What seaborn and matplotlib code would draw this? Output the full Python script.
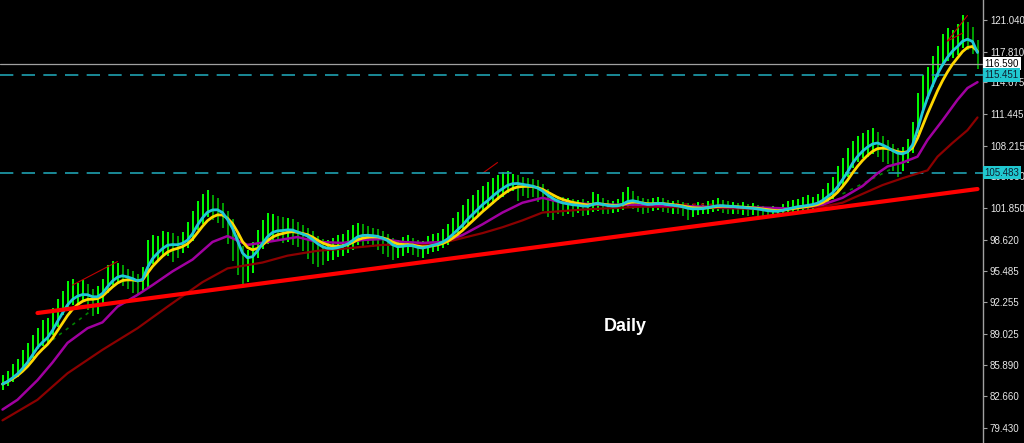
import numpy as np
import pandas as pd
import seaborn as sns
import matplotlib

matplotlib.use("Agg")
import matplotlib.pyplot as plt

# daily bars (one bar = one day)
closes = [
    83.9, 84.3, 84.8, 85.3, 86.0, 86.7, 87.6, 88.4, 88.7, 89.1,
    90.1, 91.2, 92.0, 92.8, 93.1, 93.2, 93.2, 93.0, 92.6, 92.8,
    93.5, 94.5, 95.0, 95.2, 95.1, 94.7, 94.5, 94.2, 94.7, 97.0,
    97.6, 97.8, 98.2, 98.4, 98.2, 98.1, 98.4, 98.9, 99.9, 101.0,
    101.6, 102.0, 101.9, 101.7, 101.1, 100.0, 98.9, 97.3, 96.0, 96.3,
    97.0, 98.1, 99.0, 99.6, 99.8, 99.7, 99.6, 99.7, 99.6, 99.2,
    99.0, 98.8, 98.3, 97.8, 97.6, 97.6, 97.7, 97.9, 98.1, 98.4,
    98.9, 99.3, 99.2, 99.1, 99.0, 98.9, 98.6, 98.3, 97.7, 97.7,
    98.0, 98.1, 98.0, 97.7, 97.7, 98.0, 98.2, 98.3, 98.6, 99.0,
    99.6, 100.1, 100.6, 101.3, 101.7, 102.2, 102.7, 103.0, 103.5, 103.9,
    104.2, 104.5, 104.5, 104.4, 104.2, 104.1, 104.0, 103.7, 103.3, 102.8,
    102.5, 102.3, 102.2, 102.2, 102.1, 102.1, 102.0, 102.0, 102.4, 102.5,
    102.1, 102.0, 102.0, 102.1, 102.4, 102.8, 102.7, 102.4, 102.2, 102.1,
    102.3, 102.4, 102.3, 102.1, 102.1, 102.0, 101.9, 101.7, 101.7, 101.8,
    101.8, 102.0, 102.1, 102.2, 102.1, 102.0, 102.0, 101.9, 101.9, 101.8,
    101.8, 101.7, 101.6, 101.5, 101.5, 101.5, 101.7, 101.9, 102.0, 102.1,
    102.1, 102.2, 102.3, 102.5, 102.9, 103.4, 103.8, 104.6, 105.5, 106.3,
    107.3, 107.8, 108.2, 108.5, 108.7, 108.6, 108.1, 107.8, 107.4, 107.2,
    107.3, 107.8, 109.0, 111.4, 113.4, 114.6, 115.6, 116.7, 117.4, 118.0,
    118.5, 118.8, 119.4, 119.3, 118.6, 116.6,
]
highs = [
    84.8, 85.2, 85.9, 86.5, 87.4, 88.1, 88.9, 89.6, 90.4, 90.6,
    91.7, 92.6, 93.4, 94.4, 94.6, 94.2, 94.5, 94.1, 93.6, 93.9,
    94.6, 96.0, 96.5, 96.3, 96.0, 95.6, 95.4, 95.1, 95.8, 98.6,
    99.1, 99.0, 99.5, 99.4, 99.3, 99.0, 99.4, 100.4, 101.6, 102.6,
    103.3, 103.7, 103.2, 102.9, 102.4, 101.6, 100.7, 99.3, 98.0, 97.6,
    98.4, 99.6, 100.6, 101.4, 101.3, 101.0, 100.9, 100.8, 100.7, 100.4,
    100.1, 99.8, 99.5, 99.0, 98.7, 98.6, 98.8, 99.1, 99.2, 99.6,
    100.1, 100.3, 100.2, 100.0, 99.8, 99.7, 99.5, 99.2, 98.8, 98.6,
    98.9, 99.1, 98.8, 98.6, 98.5, 99.0, 99.2, 99.3, 99.7, 100.2,
    100.8, 101.5, 102.2, 102.8, 103.2, 103.7, 104.1, 104.5, 104.9, 105.2,
    105.5, 105.6, 105.3, 105.2, 105.0, 104.9, 104.8, 104.7, 104.3, 103.8,
    103.3, 103.1, 103.0, 102.9, 102.8, 102.7, 102.8, 102.6, 103.5, 103.3,
    102.9, 102.7, 102.6, 102.8, 103.5, 104.0, 103.6, 103.1, 102.9, 102.8,
    102.9, 103.0, 102.9, 102.7, 102.6, 102.7, 102.5, 102.4, 102.3, 102.5,
    102.4, 102.6, 102.7, 102.9, 102.7, 102.6, 102.5, 102.4, 102.5, 102.3,
    102.4, 102.2, 102.1, 102.0, 102.1, 102.0, 102.3, 102.6, 102.7, 102.8,
    103.0, 103.2, 103.0, 103.3, 103.8, 104.4, 105.0, 106.1, 107.0, 108.0,
    108.7, 109.2, 109.5, 109.8, 110.0, 109.6, 109.2, 108.8, 108.4, 108.0,
    108.1, 108.9, 110.6, 113.6, 115.4, 116.2, 117.4, 118.4, 119.6, 120.2,
    120.0, 120.6, 121.5, 120.8, 120.3, 119.0,
]
lows = [
    83.3, 83.7, 84.1, 84.6, 85.2, 85.9, 86.6, 87.5, 87.8, 88.0,
    88.9, 89.7, 90.9, 91.6, 92.0, 92.1, 92.3, 91.5, 90.8, 91.0,
    92.1, 93.2, 94.0, 94.1, 93.9, 93.6, 93.2, 93.0, 93.4, 93.8,
    96.2, 96.5, 96.9, 97.0, 96.4, 96.8, 97.3, 97.8, 98.5, 99.6,
    100.2, 100.9, 100.6, 100.3, 99.8, 98.2, 96.5, 95.0, 94.0, 94.3,
    95.2, 96.8, 97.7, 98.2, 98.6, 98.5, 98.3, 98.4, 98.1, 97.9,
    97.5, 96.7, 96.2, 95.8, 96.0, 96.5, 96.6, 96.9, 97.0, 97.3,
    97.6, 98.1, 98.0, 98.2, 97.9, 97.6, 97.2, 96.9, 96.6, 96.8,
    97.0, 97.3, 97.1, 96.9, 96.8, 97.2, 97.4, 97.5, 97.8, 98.1,
    98.6, 99.0, 99.5, 100.1, 100.6, 101.0, 101.5, 102.0, 102.3, 102.7,
    103.0, 103.4, 103.6, 102.6, 103.1, 102.9, 103.0, 102.5, 101.6, 100.9,
    100.6, 101.2, 101.0, 101.3, 100.9, 101.4, 101.0, 101.1, 101.5, 101.6,
    101.2, 101.3, 101.4, 101.5, 101.7, 102.0, 101.8, 101.5, 101.2, 101.4,
    101.6, 101.7, 101.5, 101.4, 101.3, 101.2, 101.0, 100.6, 100.9, 101.1,
    101.2, 101.3, 101.5, 101.6, 101.4, 101.2, 101.3, 101.2, 101.1, 101.0,
    101.1, 100.9, 100.8, 100.9, 100.8, 100.9, 101.0, 101.2, 101.4, 101.5,
    101.5, 101.6, 101.7, 101.9, 102.1, 102.5, 102.8, 103.4, 104.2, 105.0,
    105.9, 106.6, 107.0, 107.1, 107.4, 107.1, 106.6, 106.3, 105.6, 105.0,
    105.6, 106.5, 107.5, 109.5, 111.6, 113.0, 114.2, 115.2, 116.3, 116.9,
    117.2, 117.5, 118.2, 118.0, 117.6, 116.0,
]

# slow averages at a few bars
purple_pos = [0, 3, 7, 10, 13, 17, 20, 23, 27, 30, 34, 38, 42, 45, 49, 53, 59, 63,
              68, 72, 76, 80, 84, 88, 92, 96, 100, 104, 108, 112, 120, 128, 140,
              152, 158, 164, 168, 172, 175, 177, 180, 183, 185, 188, 191, 193, 195]
purple_val = [81.3, 82.3, 84.3, 86.1, 88.1, 89.6, 90.2, 91.8, 93.0, 94.0, 95.4, 96.6,
              98.4, 99.0, 98.1, 98.4, 98.9, 98.4, 98.3, 98.6, 98.7, 98.4, 98.3, 98.4,
              99.1, 100.2, 101.4, 102.4, 102.9, 102.4, 102.2, 102.2, 102.0, 101.9,
              101.8, 102.2, 102.9, 104.1, 105.4, 106.1, 106.5, 107.1, 108.8, 110.8,
              112.9, 114.1, 114.7]
maroon_pos = [0, 7, 13, 20, 27, 33, 40, 45, 52, 57, 63, 68, 76, 84, 88, 92, 96, 100,
              104, 108, 116, 128, 140, 155, 160, 164, 168, 172, 176, 180, 185, 187,
              190, 193, 195]
maroon_val = [80.2, 82.3, 85.0, 87.4, 89.6, 91.8, 94.3, 95.7, 96.3, 97.0, 97.5, 97.7,
              98.1, 98.1, 98.3, 98.8, 99.3, 99.9, 100.6, 101.4, 101.7, 102.0, 101.9,
              101.7, 101.9, 102.0, 102.4, 103.3, 104.2, 104.9, 105.7, 107.1, 108.5,
              109.8, 111.1]

trend_pos = [7, 195]
trend_val = [91.15, 103.8]

yticks = [121.040, 117.810, 114.675, 111.445, 108.215, 105.080, 101.850,
          98.620, 95.485, 92.255, 89.025, 85.890, 82.660, 79.430]
bid = 116.590
levels = [115.451, 105.483]

df = pd.DataFrame({"close": closes, "high": highs, "low": lows})
df["bar"] = np.arange(len(df))
df["fast"] = df["close"].ewm(span=3).mean()
df["mid"] = df["close"].ewm(span=6).mean()
up = df["close"].diff().fillna(1) >= 0

sns.set_theme(style="dark", rc={"axes.facecolor": "black", "figure.facecolor": "black"})
plt.rcParams["font.family"] = ["Liberation Sans", "DejaVu Sans"]

fig = plt.figure(figsize=(10.24, 4.43), dpi=100)
ax = fig.add_axes([0, 0, 983 / 1024, 1])
ax.set_facecolor("black")

ax.vlines(df["bar"][up], df["low"][up], df["high"][up], color="#00ff00", lw=1.4, zorder=2)
ax.vlines(df["bar"][~up], df["low"][~up], df["high"][~up], color="#00a000", lw=1.4, zorder=2)

# small drawings left on the chart
ax.plot([14, 23], [94.0, 96.4], color="#c00000", lw=0.8, zorder=3)
ax.plot([96, 99], [105.4, 106.5], color="#c00000", lw=0.8, zorder=3)
ax.plot([189, 193], [118.9, 121.5], color="#c00000", lw=0.8, zorder=3)
ax.plot([189, 192], [118.9, 119.7], color="#c00000", lw=0.8, zorder=3)
ax.plot([10, 18], [88.4, 91.5], color="#008000", lw=1.2, ls=(0, (2, 3)), zorder=3)
ax.plot([168, 178], [103.3, 105.9], color="#008000", lw=1.2, ls=(0, (2, 3)), zorder=3)
ax.plot([133, 144], [102.3, 102.2], color="#a00000", lw=1.2, ls=(0, (2, 3)), zorder=3)

sns.lineplot(x=maroon_pos, y=maroon_val, ax=ax, color="#8b0000", lw=1.6, zorder=4)
sns.lineplot(x=purple_pos, y=purple_val, ax=ax, color="#a000a0", lw=1.8, zorder=4)
sns.lineplot(data=df, x="bar", y="mid", ax=ax, color="#ffd700", lw=2.0, zorder=5)
sns.lineplot(data=df, x="bar", y="fast", ax=ax, color="#20c8d8", lw=2.0, zorder=6)
sns.lineplot(x=trend_pos, y=trend_val, ax=ax, color="#ff0000", lw=3.0, zorder=7)

ax.axhline(bid, color="#a0a0a0", lw=0.9, zorder=3)
for lv in levels:
    ax.axhline(lv, color="#1fa0b0", lw=1.2, ls=(0, (8, 5)), zorder=3)

ax.text(124.6, 89.8, "Daily", color="white", fontsize=13, fontweight="bold",
        ha="center", va="center", zorder=8)

ax.set_xlim(-0.5, 196.1)
ax.set_ylim(77.89, 123.08)
ax.set_xticks([])
ax.set_yticks(yticks)
ax.set_yticklabels([f"{v:.3f}" for v in yticks])
ax.yaxis.tick_right()
ax.tick_params(axis="y", colors="#a0a0a0", labelcolor="#e8e8e8", labelsize=7,
               length=3, width=0.8, pad=2, right=True)
ax.set_xlabel("")
ax.set_ylabel("")
for s in ["left", "top", "bottom"]:
    ax.spines[s].set_visible(False)
ax.spines["right"].set_color("#a0a0a0")
ax.spines["right"].set_linewidth(1.0)
ax.grid(False)

tr = ax.get_yaxis_transform()
ax.text(1.0015, bid, f"{bid:.3f}", transform=tr, ha="left", va="center", fontsize=7,
        color="black", zorder=10, clip_on=False,
        bbox=dict(boxstyle="square,pad=0.18", fc="white", ec="none"))
for lv in levels:
    ax.text(1.0015, lv, f"{lv:.3f}", transform=tr, ha="left", va="center", fontsize=7,
            color="#102030", zorder=10, clip_on=False,
            bbox=dict(boxstyle="square,pad=0.18", fc="#20c8d0", ec="none"))

fig.savefig("out.png", dpi=100, facecolor="black")
